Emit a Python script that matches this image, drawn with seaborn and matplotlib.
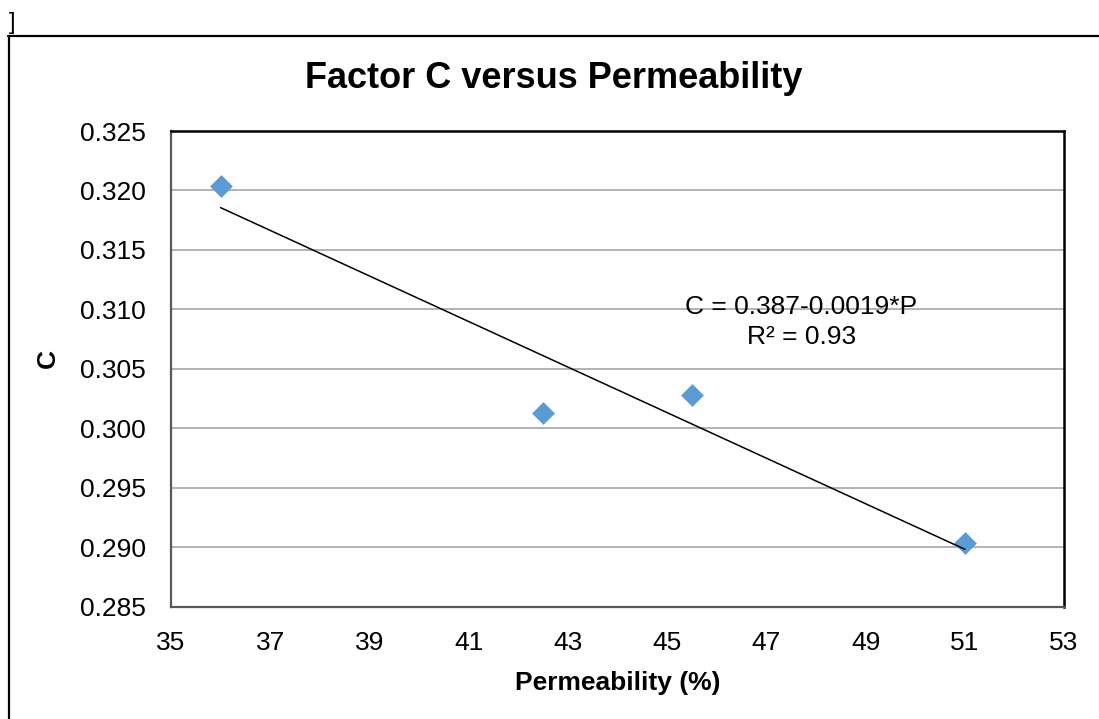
import numpy as np
import seaborn as sns
import matplotlib.pyplot as plt
from matplotlib.lines import Line2D

# data
permeability = [36.0, 42.5, 45.5, 51.0]
factor_c = [0.3204, 0.3013, 0.3028, 0.2904]
x_ticks = [35, 37, 39, 41, 43, 45, 47, 49, 51, 53]
y_ticks = [0.285, 0.290, 0.295, 0.300, 0.305, 0.310, 0.315, 0.320, 0.325]
equation = "C = 0.387-0.0019*P\nR² = 0.93"

sns.set_style("white")
plt.rcParams['font.family'] = ['Liberation Sans', 'DejaVu Sans']
plt.rcParams['text.color'] = 'black'
plt.rcParams['axes.labelcolor'] = 'black'

fig = plt.figure(figsize=(10.99, 7.19), dpi=100)
ax = fig.add_axes([0.1556, 0.1558, 0.8126, 0.662])

sns.regplot(x=permeability, y=factor_c, ci=None, marker='D', ax=ax,
            scatter_kws=dict(s=135, color='#5B9BD5', linewidths=0, alpha=1),
            line_kws=dict(color='black', lw=1.1))

ax.set_xlim(35, 53)
ax.set_ylim(0.285, 0.325)
ax.set_xticks(x_ticks)
ax.set_yticks(y_ticks)
ax.set_yticklabels([f"{v:.3f}" for v in y_ticks])
ax.tick_params(axis='both', length=0, labelsize=19, colors='black')
ax.tick_params(axis='y', pad=18)
ax.tick_params(axis='x', pad=17)

ax.yaxis.grid(True, color='#A6A6A6', lw=1.2)
ax.xaxis.grid(False)
ax.set_axisbelow(True)

for side in ['left', 'bottom']:
    ax.spines[side].set_color('#595959')
    ax.spines[side].set_linewidth(1.6)
for side in ['top', 'right']:
    ax.spines[side].set_color('black')
    ax.spines[side].set_linewidth(1.8)

ax.set_xlabel("Permeability (%)", fontsize=19, fontweight='bold', labelpad=12)
ax.set_ylabel("")
fig.text(48 / 1099, 1 - 358 / 719, "C", fontsize=19, fontweight='bold',
         rotation=90, ha='center', va='center')

ax.text(47.7, 0.30895, equation, fontsize=19, ha='center', va='center',
        linespacing=1.3)

fig.text(554 / 1099, 1 - 79 / 719, "Factor C versus Permeability",
         fontsize=26, fontweight='bold', ha='center', va='center')

# outer frame and stray bracket
fig.add_artist(Line2D([8 / 1099, 1], [1 - 35.5 / 719] * 2, color='black', lw=1.6,
                      transform=fig.transFigure))
fig.add_artist(Line2D([8.5 / 1099] * 2, [0, 1 - 35.5 / 719], color='black', lw=1.6,
                      transform=fig.transFigure))
fig.text(12 / 1099, 1 - 23 / 719, "]", fontsize=17, ha='center', va='center')

fig.savefig("out.png", dpi=100)
